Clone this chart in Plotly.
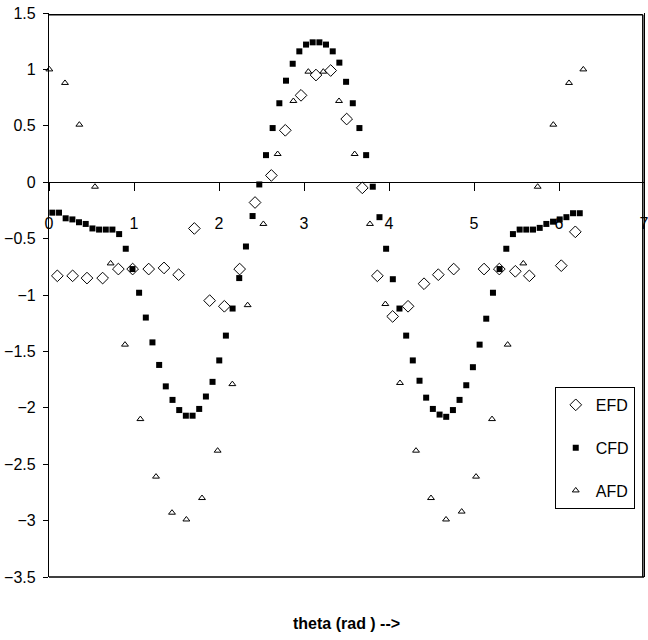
import plotly.graph_objects as go

# CFD: computed values, 4.5 degree steps
cfd_theta = [
    0.039, 0.118, 0.196, 0.275, 0.353, 0.432, 0.511, 0.589, 0.668, 0.746,
    0.825, 0.903, 0.982, 1.060, 1.139, 1.217, 1.296, 1.374, 1.453, 1.532,
    1.610, 1.689, 1.767, 1.846, 1.924, 2.003, 2.081, 2.160, 2.238, 2.317,
    2.395, 2.474, 2.553, 2.631, 2.710, 2.788, 2.867, 2.945, 3.024, 3.102,
    3.181, 3.259, 3.338, 3.416, 3.495, 3.574, 3.652, 3.731, 3.809, 3.888,
    3.966, 4.045, 4.123, 4.202, 4.280, 4.359, 4.437, 4.516, 4.595, 4.673,
    4.752, 4.830, 4.909, 4.987, 5.066, 5.144, 5.223, 5.301, 5.380, 5.458,
    5.537, 5.615, 5.694, 5.773, 5.851, 5.930, 6.008, 6.087, 6.165, 6.244,
]
cfd_vals = [
    -0.27, -0.27, -0.32, -0.33, -0.355, -0.37, -0.41, -0.42, -0.42, -0.42,
    -0.46, -0.59, -0.77, -0.98, -1.20, -1.42, -1.62, -1.81, -1.93, -2.02,
    -2.07, -2.07, -2.01, -1.90, -1.77, -1.58, -1.36, -1.12, -0.85, -0.57,
    -0.30, -0.02, 0.24, 0.48, 0.70, 0.90, 1.05, 1.16, 1.22, 1.24,
    1.24, 1.22, 1.16, 1.06, 0.89, 0.70, 0.48, 0.24, -0.04, -0.31,
    -0.59, -0.86, -1.12, -1.36, -1.58, -1.76, -1.91, -2.01, -2.06, -2.08,
    -2.02, -1.93, -1.80, -1.64, -1.44, -1.21, -0.98, -0.77, -0.59, -0.46,
    -0.42, -0.42, -0.42, -0.405, -0.37, -0.35, -0.33, -0.31, -0.275, -0.275,
]

# EFD: experimental values
efd_theta = [
    0.098, 0.278, 0.447, 0.631, 0.816, 0.984, 1.173, 1.353, 1.525, 1.710,
    1.890, 2.063, 2.243, 2.424, 2.616, 2.780, 2.965, 3.141, 3.314, 3.502,
    3.686, 3.863, 4.043, 4.224, 4.412, 4.580, 4.761, 5.118, 5.298, 5.486,
    5.651, 6.027, 6.192,
]
efd_vals = [
    -0.83, -0.83, -0.85, -0.85, -0.77, -0.77, -0.77, -0.76, -0.82, -0.41,
    -1.05, -1.10, -0.77, -0.18, 0.06, 0.46, 0.77, 0.95, 0.99, 0.56,
    -0.05, -0.83, -1.19, -1.10, -0.90, -0.82, -0.77, -0.77, -0.77, -0.79,
    -0.83, -0.74, -0.44,
]

# AFD: analytical values
afd_theta = [
    0.004, 0.188, 0.357, 0.541, 0.725, 0.894, 1.075, 1.259, 1.447, 1.616,
    1.800, 1.984, 2.157, 2.337, 2.522, 2.690, 2.875, 3.051, 3.227, 3.412,
    3.596, 3.776, 3.957, 4.129, 4.318, 4.494, 4.671, 4.855, 5.024, 5.212,
    5.396, 5.580, 5.749, 5.933, 6.118, 6.286,
]
afd_vals = [
    1.00, 0.88, 0.51, -0.04, -0.72, -1.44, -2.10, -2.61, -2.93, -2.99,
    -2.80, -2.38, -1.79, -1.09, -0.37, 0.25, 0.72, 0.98, 0.98, 0.72,
    0.25, -0.37, -1.08, -1.78, -2.38, -2.80, -2.99, -2.92, -2.61, -2.10,
    -1.44, -0.72, -0.04, 0.51, 0.88, 1.00,
]

FONT = "Liberation Sans, Arial, sans-serif"

fig = go.Figure()

fig.add_trace(
    go.Scatter(
        x=efd_theta, y=efd_vals, name="EFD", mode="markers", legendgroup="a",
        marker=dict(symbol="diamond-open", size=9, color="black", line=dict(width=1)),
        cliponaxis=False,
    )
)
fig.add_trace(
    go.Scatter(
        x=cfd_theta, y=cfd_vals, name="CFD", mode="markers", legendgroup="b",
        marker=dict(symbol="square", size=6, color="black"),
        cliponaxis=False,
    )
)
fig.add_trace(
    go.Scatter(
        x=afd_theta, y=afd_vals, name="AFD", mode="markers", legendgroup="c",
        marker=dict(symbol="triangle-up-open", size=6, color="black", line=dict(width=1)),
        cliponaxis=False,
    )
)

# box round the plot area: bottom, top and right sides
for x0, y0, x1, y1 in [(0, 0, 1, 0), (0, 0.997, 0.998, 0.997), (0.998, 0, 0.998, 0.997)]:
    fig.add_shape(
        type="line", xref="paper", yref="paper", x0=x0, y0=y0, x1=x1, y1=y1,
        line=dict(color="black", width=1.5), layer="above",
    )

fig.add_annotation(
    text="<b>theta (rad ) --></b>", xref="paper", yref="paper",
    x=0.5, y=-0.083, yanchor="middle", showarrow=False,
    font=dict(family=FONT, size=16, color="black"),
)

fig.update_layout(
    width=648,
    height=640,
    margin=dict(l=49, r=4, t=13, b=63),
    plot_bgcolor="white",
    paper_bgcolor="white",
    font=dict(family=FONT, size=16, color="black"),
    xaxis=dict(
        range=[0, 7], dtick=1, anchor="free", position=0.7, automargin=False,
        showgrid=False, zeroline=False, showline=True, linecolor="black", linewidth=1.2,
        ticks="outside", ticklen=8, tickcolor="black", ticklabelstandoff=18,
        ticklabeloverflow="allow",
    ),
    yaxis=dict(
        range=[-3.5, 1.5], dtick=0.5, showgrid=False, zeroline=False, automargin=False,
        showline=True, linecolor="black", linewidth=1.2, mirror=True,
        ticks="outside", ticklen=5, tickcolor="black", ticklabelstandoff=4,
    ),
    legend=dict(
        x=0.85, y=0.337, xanchor="left", yanchor="top",
        bordercolor="black", borderwidth=1, tracegroupgap=19,
        font=dict(family=FONT, size=16),
    ),
)

# the page's default body margin would shift the chart by 8px
fig.write_html(
    "out.html",
    config={"displayModeBar": False},
    post_script="document.body.style.margin='0px';",
)
